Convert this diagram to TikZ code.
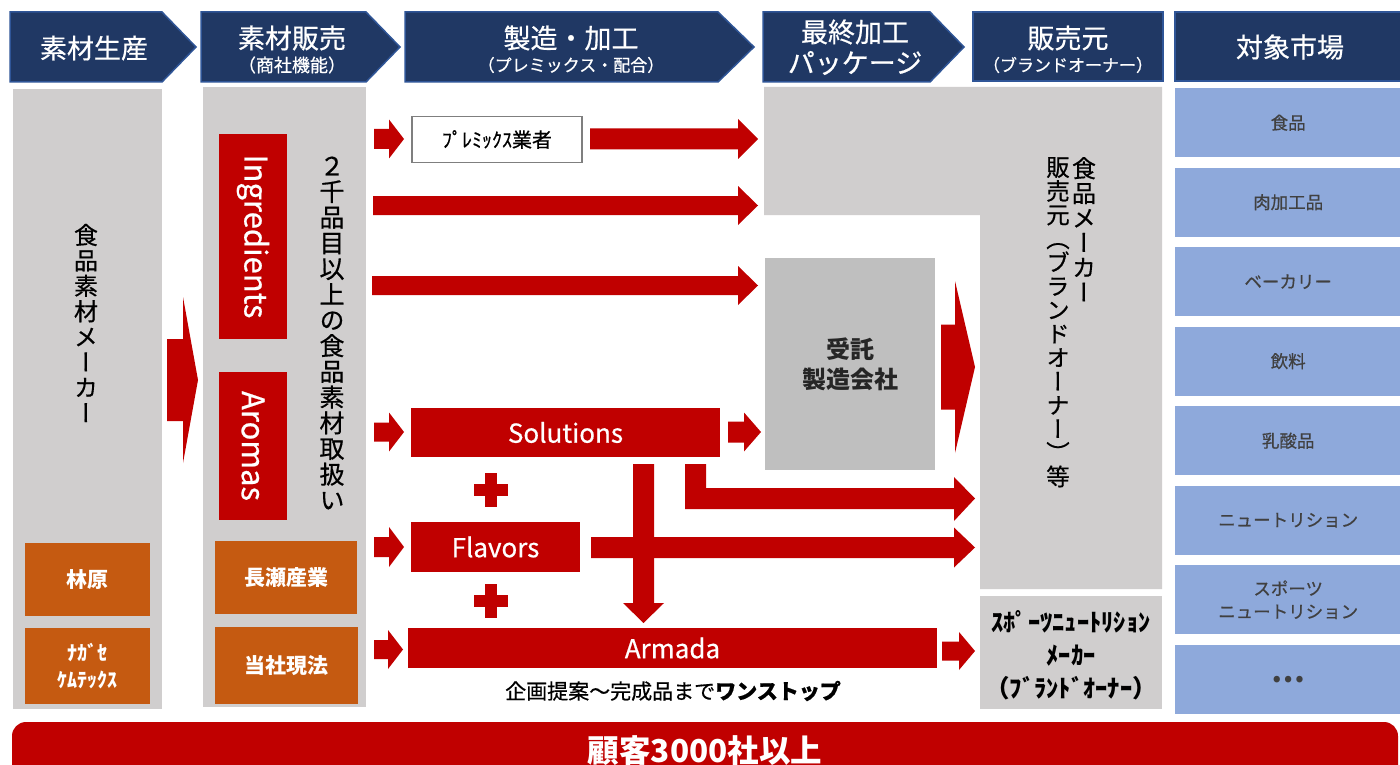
\documentclass[tikz,border=0pt]{standalone}
\usepackage{fontspec}
\setmainfont{Noto Sans CJK JP}
\newfontfamily\medfont[FakeBold=0.6]{Noto Sans CJK JP}
\newfontfamily\vfont[RawFeature=+vert, FakeBold=0.5]{Noto Sans CJK JP}
\definecolor{navy}{HTML}{203864}
\definecolor{navyb}{HTML}{2F5597}
\definecolor{graybg}{HTML}{D0CECE}
\definecolor{graybox}{HTML}{BFBFBF}
\definecolor{redc}{HTML}{C00000}
\definecolor{orng}{HTML}{C55A11}
\definecolor{bluebox}{HTML}{8EA9DB}
\definecolor{bluetxt}{HTML}{404040}
\definecolor{boxline}{HTML}{7F7F7F}
\newcommand{\fs}[2]{\fontsize{#1}{#2}\selectfont}
\newcommand{\harr}[6]{\fill[redc] (#1,{#3-#4}) -- ({#2-#6},{#3-#4}) -- ({#2-#6},{#3-#5}) -- (#2,#3) -- ({#2-#6},{#3+#5}) -- ({#2-#6},{#3+#4}) -- (#1,{#3+#4}) -- cycle;}
\tikzset{
  hdr/.style={fill=navy, draw=navyb, line width=1.5pt, line join=miter},
  hdrtxt/.style={text=white, inner sep=0pt, align=center},
  bg/.style={fill=graybg},
  redbox/.style={fill=redc, text=white, inner sep=0pt, font=\medfont\fs{26}{30}},
  orgbox/.style={fill=orng, text=white, inner sep=0pt, font=\bfseries\fs{21}{26}, align=center},
  bluebx/.style={fill=bluebox, text=bluetxt, inner sep=0pt, font=\medfont\fs{17.5}{23}, align=center, minimum width=226pt, minimum height=69pt, anchor=north west},
  vtxt/.style={inner sep=0pt, align=center},
}
\begin{document}
\begin{tikzpicture}[x=1pt,y=-1pt]
\clip (0,0) rectangle (1400,765);
\fill[white] (0,0) rectangle (1400,765);

% ---------- headers ----------
\draw[hdr] (10,12) -- (162,12) -- (196,47) -- (162,82) -- (10,82) -- cycle;
\draw[hdr] (201,12) -- (366,12) -- (400,47) -- (366,82) -- (201,82) -- cycle;
\draw[hdr] (405,12) -- (718,12) -- (754,47) -- (718,82) -- (405,82) -- cycle;
\draw[hdr] (763,12) -- (930,12) -- (964,47) -- (930,82) -- (763,82) -- cycle;
\draw[hdr] (973,12) rectangle (1163,81);
\draw[hdr] (1175,12) rectangle (1403,81);
\node[hdrtxt, font=\medfont\fs{27}{30}] (h1) at (94,48) {素材生産};
\node[hdrtxt, font=\medfont\fs{27}{30}] (h2) at (292,38) {素材販売};
\node[hdrtxt, font=\medfont\fs{18}{20}] (h2s) at (292,65) {（商社機能）};
\node[hdrtxt, font=\medfont\fs{27}{30}] (h3) at (571,38) {製造・加工};
\node[hdrtxt, font=\medfont\fs{17}{20}] (h3s) at (571,65) {（プレミックス・配合）};
\node[hdrtxt, font=\medfont\fs{27}{30}] (h4) at (855,32) {最終加工};
\node[hdrtxt, font=\medfont\fs{27}{30}] (h4b) at (855,63) {パッケージ};
\node[hdrtxt, font=\medfont\fs{27}{30}] (h5) at (1068,38) {販売元};
\node[hdrtxt, font=\medfont\fs{17}{20}] (h5s) at (1068,65) {（ブランドオーナー）};
\node[hdrtxt, font=\medfont\fs{27}{30}] (h6) at (1290,47) {対象市場};

% ---------- gray backgrounds ----------
\fill[bg] (13,89) rectangle (162,709);
\fill[bg] (203,87) rectangle (366,707);
\fill[bg] (764,87) -- (1162,87) -- (1162,589) -- (980,589) -- (980,215) -- (764,215) -- cycle;
\fill[bg] (980,596) rectangle (1162,709);

% ---------- column 1 ----------
\node[vtxt, font=\vfont\fs{24}{25.4}] (matmaker) at (86,323) {食\\品\\素\\材\\メ\\ー\\カ\\ー};
\node[orgbox, minimum width=125pt, minimum height=73pt] (hayashi) at (87.5,579.5) {林原};
\node[orgbox, minimum width=125pt, minimum height=76pt, font=\bfseries\fs{20}{27}] (nagasechem) at (87.5,666) {ﾅｶﾞｾ\\ｹﾑﾃｯｸｽ};

% big arrow col1 -> col2
\harr{167}{198}{380}{41}{83}{15}

% ---------- column 2 ----------
\node[redbox, minimum width=68pt, minimum height=205pt] (ingr) at (253,236.5) {};
\node[rotate=-90, text=white, font=\medfont\fs{31}{34}, inner sep=0pt] at (ingr.center) {Ingredients};
\node[redbox, minimum width=68pt, minimum height=148pt] (arom) at (253,446) {};
\node[rotate=-90, text=white, font=\medfont\fs{31}{34}, inner sep=0pt] at (arom.center) {Aromas};
\node[vtxt, font=\vfont\fs{25}{25.7}] (items) at (332,333) {２\\千\\品\\目\\以\\上\\の\\食\\品\\素\\材\\取\\扱\\い};
\node[orgbox, minimum width=142pt, minimum height=73pt] (nagase) at (286,577.5) {長瀬産業};
\node[orgbox, minimum width=143pt, minimum height=77pt] (local) at (286.5,665.5) {当社現法};

% ---------- middle ----------
\harr{374}{404}{139}{10}{19.5}{15}
\node[draw=boxline, line width=1.8pt, fill=white, minimum width=170pt, minimum height=46pt, inner sep=0pt, font=\medfont\fs{20}{22}] (premix) at (497,139.5) {ﾌﾟﾚﾐｯｸｽ業者};
\harr{590}{758}{139}{10.5}{20}{20}
\harr{373}{758}{205.5}{9.5}{19.5}{20}
\harr{372}{758}{285.5}{9.5}{19.5}{20}

\node[fill=graybox, minimum width=170pt, minimum height=212pt, inner sep=0pt] (itaku) at (850,364) {};
\node[font=\bfseries\fs{24}{30}, align=center, text=black!85] at (850,364) {受託\\製造会社};
\harr{941}{975}{367}{42.5}{86}{20}

\harr{374}{404}{432}{9.5}{19.5}{15}
\node[redbox] at (565.5,432.5) [minimum width=309pt, minimum height=49pt] (sol) {Solutions};
\harr{728}{761}{432}{10.5}{19.5}{17}

% down arrow and L arrow
\fill[redc] (633,464) -- (654,464) -- (654,603) -- (664,603) -- (643.5,623) -- (623,603) -- (633,603) -- cycle;
\fill[redc] (685,464) -- (706,464) -- (706,488) -- (954,488) -- (954,477) -- (975,498.5) -- (954,521) -- (954,509) -- (685,509) -- cycle;

% plus signs
\fill[redc] (485,473) rectangle (497,507);
\fill[redc] (474,484) rectangle (508,496);
\fill[redc] (485,584) rectangle (497,618);
\fill[redc] (474,595) rectangle (508,607);

\harr{374}{404}{547}{10}{20}{15}
\node[redbox, minimum width=169pt, minimum height=50pt] (flav) at (495.5,547) {Flavors};
\harr{591}{975}{547.5}{10.5}{20}{21}

\harr{374}{403}{649.5}{9.5}{19.5}{15}
\node[redbox, minimum width=529pt, minimum height=40pt] (armada) at (672.5,648) {Armada};
\harr{942}{975}{651}{9.5}{19}{16}
\node[font=\medfont\fs{21}{24}, inner sep=0pt] (onestop) at (673,691) {企画提案～完成品まで{\bfseries ワンストップ}};

% ---------- brand owners ----------
\node[vtxt, font=\vfont\fs{24}{24.8}, anchor=north] (foodmaker) at (1084,157) {食\\品\\メ\\ー\\カ\\ー};
\node[vtxt, font=\vfont\fs{23.5}{23.8}, anchor=north] (seller) at (1058,157) {販\\売\\元\\（\\ブ\\ラ\\ン\\ド\\オ\\ー\\ナ\\ー\\）\\等};
\node[font=\bfseries\fs{24.5}{33}, align=center, inner sep=0pt] (sports) at (1071,655) {ｽﾎﾟｰﾂﾆｭｰﾄﾘｼｮﾝ\\ﾒｰｶｰ\\（ﾌﾞﾗﾝﾄﾞｵｰﾅｰ）};

% ---------- markets ----------
\node[bluebx] (m1) at (1175,88) {食品};
\node[bluebx] (m2) at (1175,167.5) {肉加工品};
\node[bluebx] (m3) at (1175,247) {ベーカリー};
\node[bluebx] (m4) at (1175,326.5) {飲料};
\node[bluebx] (m5) at (1175,406) {乳酸品};
\node[bluebx] (m6) at (1175,485.5) {ニュートリション};
\node[bluebx] (m7) at (1175,565) {スポーツ\\ニュートリション};
\node[bluebx, font=\bfseries\fs{30}{30}] (m8) at (1175,644.5) {…};

% ---------- bottom bar ----------
\fill[redc, rounded corners=14pt] (12,722) rectangle (1398,800);
\node[text=white, font=\bfseries\fs{31.5}{34}, inner sep=0pt] (customers) at (705,751) {顧客3000社以上};
\end{tikzpicture}
\end{document}
